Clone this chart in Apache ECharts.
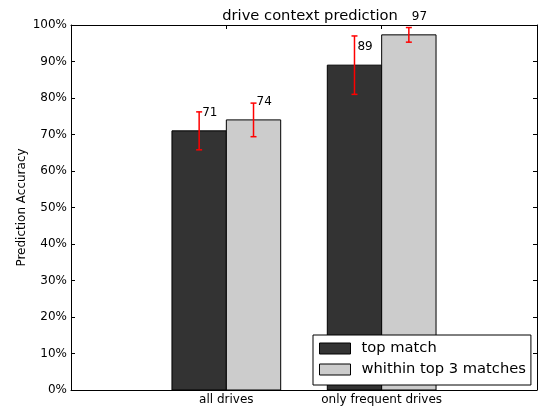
<!DOCTYPE html>
<html>
<head>
<meta charset="utf-8">
<script src="https://cdn.jsdelivr.net/npm/echarts@6/dist/echarts.min.js"></script>
<style>html,body{margin:0;padding:0;background:#fff}#chart{width:540px;height:406px}</style>
</head>
<body>
<div id="chart"></div>
<script>
// ---- data ----
const categories = ['all drives', 'only frequent drives'];
const seriesNames = ['top match', 'whithin top 3 matches'];
const topMatch = [71, 89];
const topMatchErr = [5.2, 8];
const top3 = [74, 97.3];
const top3Err = [4.6, 2];
const yTicks = [0, 10, 20, 30, 40, 50, 60, 70, 80, 90, 100];

const FONT = 'DejaVu Sans';
const BAR_W = 0.35;

function barRender(offset) {
  return function (params, api) {
    const x = api.value(0), v = api.value(1);
    const p0 = api.coord([x + offset * BAR_W, v]);
    const p1 = api.coord([x + (offset + 1) * BAR_W, 0]);
    return {
      type: 'rect',
      shape: { x: p0[0], y: p0[1], width: p1[0] - p0[0], height: p1[1] - p0[1] },
      style: { fill: api.visual('color'), stroke: '#000', lineWidth: 1 }
    };
  };
}
function errRender(offset) {
  return function (params, api) {
    const x = api.value(0) + (offset + 0.5) * BAR_W, v = api.value(1), e = api.value(2);
    const top = api.coord([x, v + e]), bot = api.coord([x, v - e]);
    const cx = top[0];
    const st = { stroke: '#ff0000', lineWidth: 1.5 };
    const lbl = api.coord([x, v + 5]);
    return {
      type: 'group',
      children: [
        { type: 'line', shape: { x1: cx, y1: top[1], x2: cx, y2: bot[1] }, style: st },
        { type: 'line', shape: { x1: cx - 3, y1: top[1], x2: cx + 3, y2: top[1] }, style: st },
        { type: 'line', shape: { x1: cx - 3, y1: bot[1], x2: cx + 3, y2: bot[1] }, style: st },
        { type: 'text', x: lbl[0] + 3, y: lbl[1],
          style: { text: String(Math.round(v)), fill: '#000', font: '12px "' + FONT + '"', align: 'left', verticalAlign: 'middle' } }
      ]
    };
  };
}
const xs = categories.map((c, i) => i);
const mk = (vals, errs) => vals.map((v, i) => [xs[i], v, errs[i]]);

const chart = echarts.init(document.getElementById('chart'), null, { renderer: 'canvas' });
const axisLine = { show: true, onZero: false, lineStyle: { color: '#000', width: 1 } };
const tick = { show: true, inside: true, length: 4, lineStyle: { color: '#000', width: 1 } };
chart.setOption({
  animation: false,
  backgroundColor: '#fff',
  textStyle: { fontFamily: FONT },
  title: {
    text: 'drive context prediction', left: 305, top: 4, textAlign: 'center',
    textStyle: { fontFamily: FONT, fontSize: 14.7, fontWeight: 'normal', color: '#000' }
  },
  legend: {
    data: seriesNames, orient: 'vertical', left: 313, top: 335,
    padding: [6, 5, 8, 6], itemWidth: 31, itemHeight: 11, itemGap: 6,
    backgroundColor: '#fff', borderColor: '#000', borderWidth: 1,
    icon: 'rect',
    itemStyle: { borderColor: '#000', borderWidth: 1 },
    textStyle: { fontFamily: FONT, fontSize: 14.7, color: '#000', lineHeight: 14, padding: [0, 0, 0, 6] },
    z: 10
  },
  grid: { left: 71, right: 2, top: 25, bottom: 16, containLabel: false },
  xAxis: [
    { type: 'value', min: -1, max: 2, interval: 1, position: 'bottom',
      axisLine, axisTick: tick, splitLine: { show: false },
      axisLabel: { margin: 4, fontFamily: FONT, fontSize: 12, color: '#000',
        formatter: v => (Number.isInteger(v) && v >= 0 && v < categories.length) ? categories[v] : '' } },
    { type: 'value', min: -1, max: 2, interval: 1, position: 'top',
      axisLine, axisTick: tick, splitLine: { show: false }, axisLabel: { show: false } }
  ],
  yAxis: [
    { type: 'value', min: yTicks[0], max: yTicks[yTicks.length - 1], interval: 10, position: 'left',
      axisLine, axisTick: tick, splitLine: { show: false },
      name: 'Prediction Accuracy', nameLocation: 'middle', nameGap: 43, nameMoveOverlap: false,
      nameTextStyle: { fontFamily: FONT, fontSize: 12, color: '#000' },
      axisLabel: { margin: 4, fontFamily: FONT, fontSize: 12, color: '#000', formatter: '{value}%' } },
    { type: 'value', min: yTicks[0], max: yTicks[yTicks.length - 1], interval: 10, position: 'right',
      axisLine, axisTick: tick, splitLine: { show: false }, axisLabel: { show: false } }
  ],
  series: [
    { name: seriesNames[0], type: 'custom', renderItem: barRender(-1), data: mk(topMatch, topMatchErr),
      encode: { x: 0, y: 1 }, itemStyle: { color: '#333333', borderColor: '#000', borderWidth: 1 }, z: 2 },
    { name: seriesNames[1], type: 'custom', renderItem: barRender(0), data: mk(top3, top3Err),
      encode: { x: 0, y: 1 }, itemStyle: { color: '#cccccc', borderColor: '#000', borderWidth: 1 }, z: 2 },
    { name: 'err1', type: 'custom', renderItem: errRender(-1), data: mk(topMatch, topMatchErr),
      encode: { x: 0, y: 1 }, z: 3, silent: true, clip: false },
    { name: 'err2', type: 'custom', renderItem: errRender(0), data: mk(top3, top3Err),
      encode: { x: 0, y: 1 }, z: 3, silent: true, clip: false }
  ]
});
</script>
</body>
</html>
